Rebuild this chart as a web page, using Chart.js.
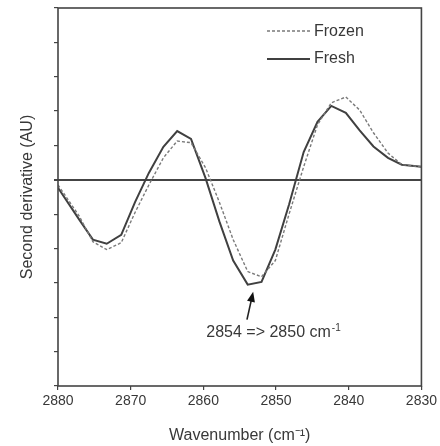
<!DOCTYPE html>
<html>
<head>
<meta charset="utf-8">
<script src="https://cdn.jsdelivr.net/npm/chart.js@4.4.1/dist/chart.umd.min.js"></script>
<style>
  html, body { margin: 0; padding: 0; background: #fff; }
  #wrap { width: 440px; height: 446px; }
</style>
</head>
<body>
<div id="wrap"><canvas id="grafico" width="440" height="446"></canvas></div>
<script>
// wavenumbers (cm-1), shared by both series
var wavenumber = [2880, 2877.1, 2875.2, 2873.3, 2871.3, 2869.4, 2867.5, 2865.5, 2863.6, 2861.7,
    2859.7, 2857.8, 2855.9, 2853.9, 2852.0, 2850.1, 2848.2, 2846.2, 2844.3, 2842.4,
    2840.4, 2838.5, 2836.6, 2834.6, 2832.7, 2830];

var fresh = [-0.23, -1.15, -1.74, -1.86, -1.6, -0.65, 0.2, 0.96, 1.42, 1.19,
    0.05, -1.21, -2.35, -3.05, -2.97, -2.03, -0.71, 0.81, 1.69, 2.15,
    1.95, 1.44, 0.97, 0.64, 0.44, 0.38];

var frozen = [-0.15, -1.05, -1.8, -2.03, -1.83, -0.95, -0.15, 0.64, 1.13, 1.08,
    0.35, -0.65, -1.74, -2.67, -2.82, -2.35, -0.99, 0.38, 1.6, 2.24,
    2.41, 2.03, 1.37, 0.78, 0.44, 0.38];

var xTicks = [2880, 2870, 2860, 2850, 2840, 2830];
var yTicks = [-6, -5, -4, -3, -2, -1, 0, 1, 2, 3, 4, 5];

var fonte = 'Liberation Sans, Arial, sans-serif';
var corTexto = '#383838';

function pontos(valores) {
    return wavenumber.map(function (w, i) { return { x: w, y: valores[i] }; });
}

// frame, legend and the arrow note
var extras = {
    id: 'extras',
    afterDraw: function (chart) {
        var ctx = chart.ctx;
        var a = chart.chartArea;
        var xs = chart.scales.x;
        var ys = chart.scales.y;
        ctx.save();
        ctx.strokeStyle = '#444';
        ctx.lineWidth = 1.6;
        ctx.strokeRect(a.left, a.top, a.right - a.left, a.bottom - a.top);

        // legend
        ctx.font = '16px ' + fonte;
        ctx.fillStyle = corTexto;
        ctx.textBaseline = 'middle';
        ctx.textAlign = 'left';
        ctx.strokeStyle = '#7a7a7a';
        ctx.lineWidth = 1.4;
        ctx.setLineDash([3, 2]);
        ctx.beginPath(); ctx.moveTo(267, 31); ctx.lineTo(310, 31); ctx.stroke();
        ctx.setLineDash([]);
        ctx.strokeStyle = '#404040';
        ctx.lineWidth = 2;
        ctx.beginPath(); ctx.moveTo(267, 59); ctx.lineTo(310, 59); ctx.stroke();
        ctx.fillText('Frozen', 314, 32);
        ctx.fillText('Fresh', 314, 59);

        // arrow
        var tx = xs.getPixelForValue(2853.15), ty = ys.getPixelForValue(-3.26);
        var bx = xs.getPixelForValue(2854.0), by = ys.getPixelForValue(-4.07);
        var ang = Math.atan2(ty - by, tx - bx);
        ctx.strokeStyle = '#222';
        ctx.lineWidth = 1.6;
        ctx.beginPath(); ctx.moveTo(bx, by); ctx.lineTo(tx - 6 * Math.cos(ang), ty - 6 * Math.sin(ang)); ctx.stroke();
        ctx.fillStyle = '#111';
        ctx.beginPath();
        ctx.moveTo(tx, ty);
        ctx.lineTo(tx - 10 * Math.cos(ang) + 4 * Math.sin(ang), ty - 10 * Math.sin(ang) - 4 * Math.cos(ang));
        ctx.lineTo(tx - 10 * Math.cos(ang) - 4 * Math.sin(ang), ty - 10 * Math.sin(ang) + 4 * Math.cos(ang));
        ctx.closePath();
        ctx.fill();

        // note text
        ctx.fillStyle = corTexto;
        ctx.font = '16px ' + fonte;
        var nx = xs.getPixelForValue(2859.6), ny = ys.getPixelForValue(-4.46);
        var t1 = '2854 => 2850 cm';
        ctx.fillText(t1, nx, ny);
        var w1 = ctx.measureText(t1).width;
        ctx.font = '10px ' + fonte;
        ctx.fillText('-1', nx + w1 + 1, ny - 5);
        ctx.restore();
    }
};

new Chart(document.getElementById('grafico'), {
    type: 'line',
    data: {
        datasets: [{
            label: 'Frozen',
            data: pontos(frozen),
            borderColor: '#7a7a7a',
            borderWidth: 1.4,
            borderDash: [3, 2],
            pointRadius: 0,
            tension: 0,
            fill: false
        }, {
            label: 'Fresh',
            data: pontos(fresh),
            borderColor: '#404040',
            borderWidth: 2,
            pointRadius: 0,
            tension: 0,
            fill: false
        }]
    },
    options: {
        responsive: false,
        animation: false,
        layout: { padding: { top: 8, right: 17, left: 0, bottom: 0 } },
        plugins: { legend: { display: false }, tooltip: { enabled: false } },
        scales: {
            x: {
                type: 'linear',
                reverse: true,
                min: 2830,
                max: 2880,
                afterBuildTicks: function (s) { s.ticks = xTicks.map(function (v) { return { value: v }; }); },
                afterFit: function (s) { s.height = 60; },
                ticks: {
                    color: corTexto, font: { size: 14, family: fonte }, padding: 3, maxRotation: 0,
                    autoSkip: false,
                    callback: function (v) { return String(v); }
                },
                grid: { drawOnChartArea: false, tickLength: 4, color: '#444', lineWidth: 1.2 },
                border: { display: false },
                title: {
                    display: true,
                    text: 'Wavenumber (cm⁻¹)',
                    color: corTexto,
                    font: { size: 16, family: fonte, lineHeight: 1.2 },
                    padding: { top: 0, bottom: 1 }
                }
            },
            y: {
                min: -6,
                max: 5,
                afterBuildTicks: function (s) { s.ticks = yTicks.map(function (v) { return { value: v }; }); },
                afterFit: function (s) { s.width = 58; },
                ticks: { display: false, autoSkip: false },
                grid: {
                    tickLength: 4,
                    tickColor: '#444',
                    color: function (c) { return c.tick && c.tick.value === 0 ? '#444' : 'rgba(0,0,0,0)'; },
                    lineWidth: function (c) { return c.tick && c.tick.value === 0 ? 2 : 1.2; }
                },
                border: { display: false },
                title: {
                    display: true,
                    text: 'Second derivative (AU)',
                    color: corTexto,
                    font: { size: 16, family: fonte, lineHeight: 1.2 },
                    padding: { top: 18, bottom: 0 }
                }
            }
        }
    },
    plugins: [extras]
});
</script>
</body>
</html>
